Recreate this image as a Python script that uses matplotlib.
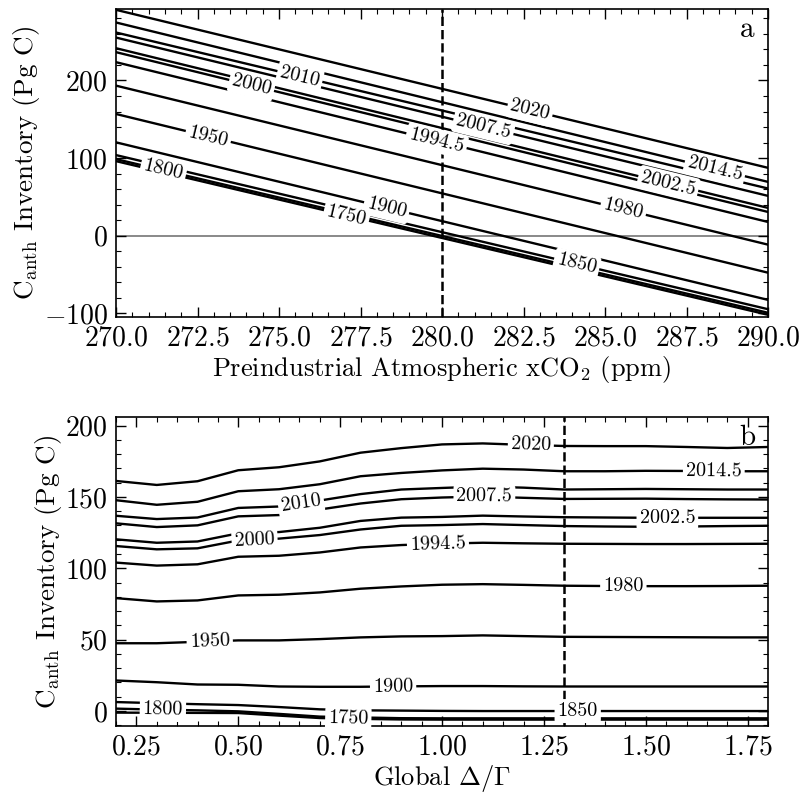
import numpy as np
import matplotlib
matplotlib.use('Agg')
from matplotlib import pyplot as plt
from matplotlib.ticker import MultipleLocator

plt.rcParams['font.family'] = 'serif'
plt.rcParams['font.serif'] = ['cmr10', 'DejaVu Serif']
plt.rcParams['mathtext.fontset'] = 'cm'
plt.rcParams['axes.formatter.use_mathtext'] = True
plt.rcParams['axes.unicode_minus'] = True

# contour years (same set in both panels)
years = ['2020', '2014.5', '2010', '2007.5', '2002.5', '2000', '1994.5',
         '1980', '1950', '1900', '1850', '1800', '1750']

# panel a: inventory at xCO2 = 270 and 290 ppm (straight lines)
xco2 = [270, 290]
inv_a = [
    [290.9, 87.5],
    [274.6, 69.4],
    [261.7, 60.9],
    [255.2, 51.4],
    [241.5, 35.9],
    [236.4, 30.7],
    [223.5, 17.8],
    [193.3, -11.4],
    [156.8, -47.5],
    [120.3, -82.5],
    [103.9, -94.5],
    [98.7, -99.1],
    [96.1, -101.7],
]
# label x positions in panel a
lab_a = [282.7, 288.37, 275.64, 281.27, 286.94, 274.16, 279.83,
         285.56, 272.83, 278.3, 284.13, 271.45, 277.07]

# panel b: inventory vs global Delta/Gamma
dg = [0.2, 0.3, 0.4, 0.5, 0.6, 0.7, 0.8, 0.9, 1.0, 1.1, 1.2, 1.3, 1.4, 1.5, 1.6, 1.7, 1.8]
inv_b = [
    [161.2, 158.4, 161.0, 168.7, 170.8, 174.9, 181.0, 184.2, 186.8, 187.5, 186.5, 185.7, 185.6, 185.6, 185.0, 184.3, 185.0],
    [147.7, 144.5, 146.6, 154.0, 155.4, 158.9, 164.5, 166.8, 168.6, 169.8, 169.2, 168.0, 168.0, 168.3, 168.2, 168.0, 168.0],
    [136.8, 134.5, 135.6, 142.3, 143.3, 147.5, 152.0, 155.2, 156.3, 157.3, 156.5, 155.2, 155.4, 155.6, 155.4, 155.2, 155.2],
    [131.5, 128.9, 130.1, 136.4, 137.3, 141.2, 145.4, 148.4, 149.6, 150.3, 149.4, 148.6, 148.7, 148.8, 148.5, 148.3, 148.2],
    [120.3, 117.9, 118.8, 124.5, 125.4, 128.4, 133.2, 135.5, 136.0, 136.9, 136.3, 135.8, 135.6, 135.4, 135.4, 135.4, 135.4],
    [115.6, 113.3, 114.0, 119.5, 120.8, 123.3, 127.2, 129.8, 130.3, 131.0, 130.3, 129.6, 129.3, 129.1, 129.3, 129.6, 129.8],
    [104.0, 101.9, 102.8, 108.1, 108.8, 111.1, 114.6, 116.3, 117.3, 117.9, 117.5, 117.2, 117.1, 117.0, 117.0, 117.1, 117.2],
    [79.1, 76.8, 77.5, 81.0, 81.5, 83.1, 85.7, 87.3, 88.5, 88.9, 88.4, 87.8, 87.6, 87.5, 87.5, 87.6, 87.8],
    [47.5, 47.5, 48.5, 49.5, 49.5, 50.4, 51.6, 52.3, 52.5, 53.0, 52.5, 52.0, 51.9, 51.8, 51.7, 51.6, 51.6],
    [21.4, 20.2, 18.6, 18.4, 17.2, 17.0, 17.0, 17.3, 17.5, 17.5, 17.3, 17.2, 17.2, 17.2, 17.2, 17.2, 17.2],
    [6.3, 5.5, 4.8, 4.2, 2.8, 1.2, 0.5, 0.3, 0.1, 0.0, 0.0, 0.0, 0.0, 0.0, 0.0, 0.0, 0.0],
    [1.7, 1.0, 0.5, -0.2, -2.0, -3.9, -4.5, -5.0, -5.1, -5.1, -5.1, -5.1, -5.1, -5.1, -5.1, -5.1, -5.1],
    [-1.1, -1.2, -1.3, -1.4, -3.2, -4.9, -5.5, -5.9, -6.0, -6.0, -6.0, -6.0, -6.0, -6.0, -6.0, -6.0, -6.0],
]
lab_b = [1.218, 1.667, 0.654, 1.104, 1.553, 0.54, 0.99,
         1.445, 0.43, 0.88, 1.333, 0.315, 0.77]


def style_axes(ax):
    ax.tick_params(which='both', direction='in', top=True, right=True, labelsize=20)
    ax.tick_params(which='major', length=7, width=1, pad=6)
    ax.tick_params(which='minor', length=3.5, width=0.8)
    for s in ax.spines.values():
        s.set_linewidth(1.2)


def label_line(ax, xs, ys, xl, txt):
    # put the level text on the line, white box hides the line under it
    xs = np.asarray(xs, float)
    ys = np.asarray(ys, float)
    yl = np.interp(xl, xs, ys)
    dx = (xs[-1] - xs[0]) * 0.02
    y1 = np.interp(xl - dx, xs, ys)
    y2 = np.interp(xl + dx, xs, ys)
    ang = np.degrees(np.arctan2(y2 - y1, 2 * dx))
    ax.text(xl, yl, txt, fontsize=14.5, ha='center', va='center',
            rotation=ang, transform_rotates_text=True, rotation_mode='anchor',
            bbox=dict(boxstyle='round,pad=0.15', fc='white', ec='none'), zorder=5)


fig = plt.figure(figsize=(7.99, 7.94), dpi=100)

# panel a
ax1 = fig.add_axes([0.1452, 0.6008, 0.816, 0.3879])
for vals in inv_a:
    ax1.plot(xco2, vals, color='black', lw=1.7, zorder=2)
ax1.axhline(0, color='gray', lw=1.3, zorder=1)
ax1.axvline(280, color='black', ls='--', lw=1.8, zorder=3)
ax1.set_xlim(270, 290)
ax1.set_ylim(-104.5, 292)
for yr, vals, xl in zip(years, inv_a, lab_a):
    label_line(ax1, xco2, vals, xl, yr)
ax1.xaxis.set_major_locator(MultipleLocator(2.5))
ax1.xaxis.set_minor_locator(MultipleLocator(0.5))
ax1.yaxis.set_major_locator(MultipleLocator(100))
ax1.yaxis.set_minor_locator(MultipleLocator(20))
style_axes(ax1)
ax1.set_xlabel(r'Preindustrial Atmospheric xCO$_2$ (ppm)', fontsize=19, labelpad=2)
ax1.set_ylabel(r'C$_{\mathrm{anth}}$ Inventory (Pg C)', fontsize=19.5, labelpad=1)
ax1.text(0.98, 0.975, 'a', transform=ax1.transAxes, ha='right', va='top', fontsize=21)

# panel b
ax2 = fig.add_axes([0.1452, 0.0856, 0.816, 0.3892])
for vals in inv_b:
    ax2.plot(dg, vals, color='black', lw=1.7, zorder=2)
ax2.axvline(1.3, color='black', ls='--', lw=1.8, zorder=3)
ax2.set_xlim(0.2, 1.8)
ax2.set_ylim(-10.5, 206)
for yr, vals, xl in zip(years, inv_b, lab_b):
    label_line(ax2, dg, vals, xl, yr)
ax2.xaxis.set_major_locator(MultipleLocator(0.25))
ax2.xaxis.set_minor_locator(MultipleLocator(0.05))
ax2.yaxis.set_major_locator(MultipleLocator(50))
ax2.yaxis.set_minor_locator(MultipleLocator(10))
style_axes(ax2)
ax2.set_xlabel(r'Global $\Delta/\Gamma$', fontsize=19, labelpad=2)
ax2.set_ylabel(r'C$_{\mathrm{anth}}$ Inventory (Pg C)', fontsize=19.5, labelpad=1)
ax2.text(0.98, 0.975, 'b', transform=ax2.transAxes, ha='right', va='top', fontsize=21)

fig.savefig('out.png', dpi=100)
